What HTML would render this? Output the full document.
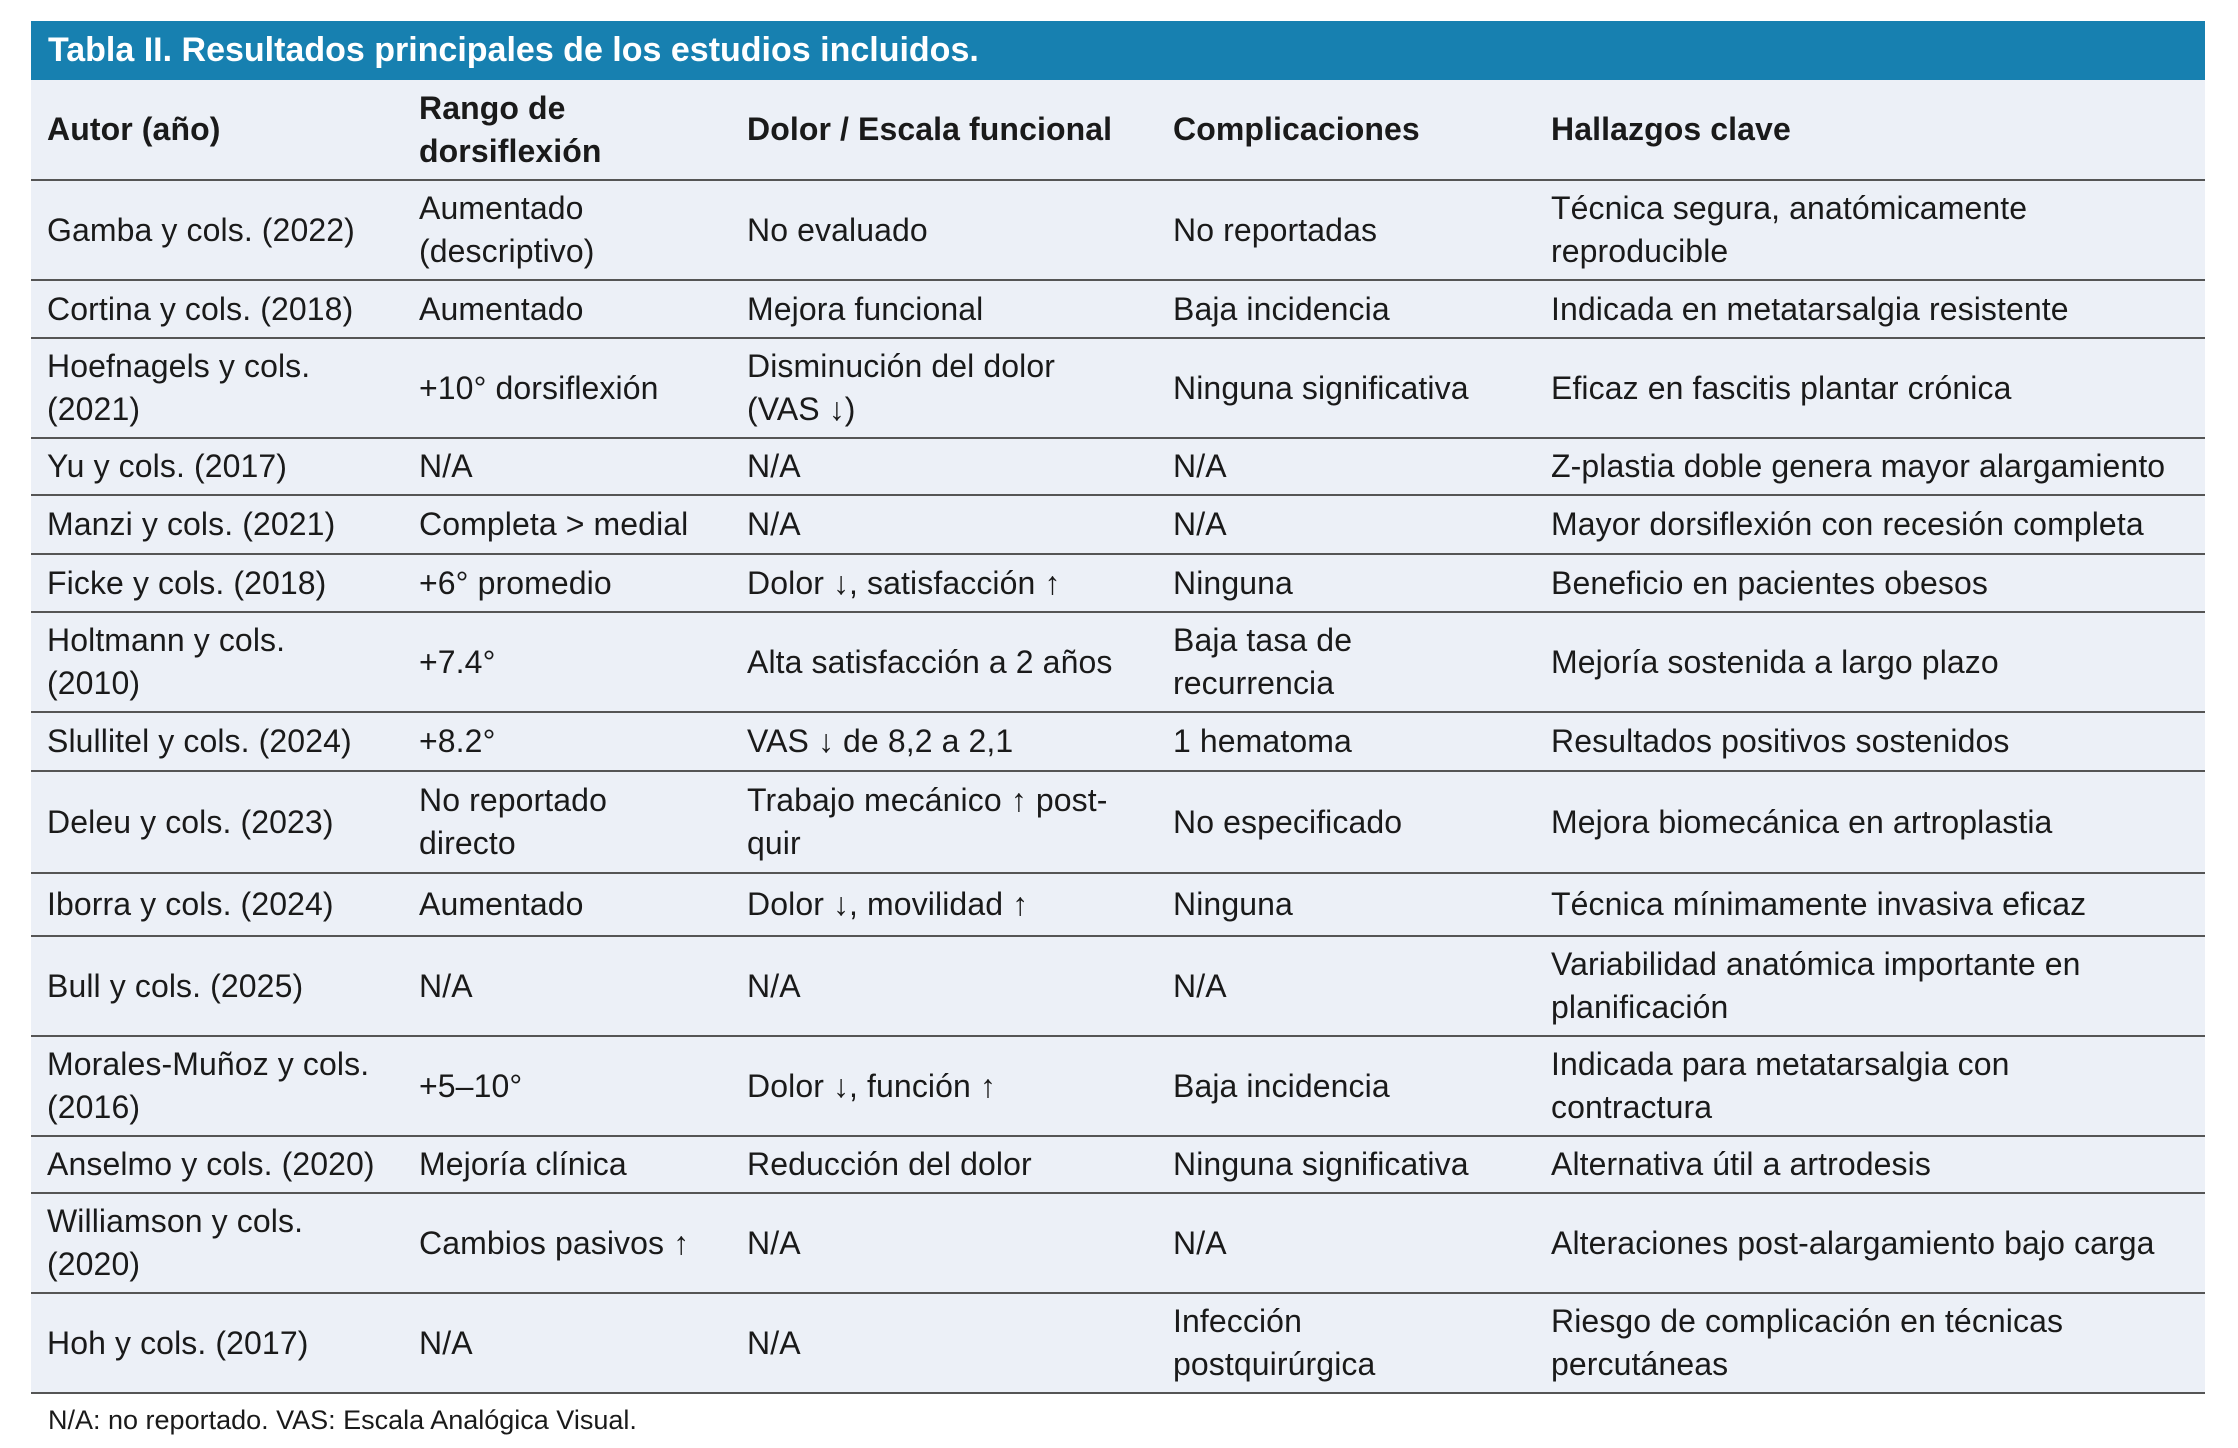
<!DOCTYPE html>
<html><head><meta charset="utf-8"><style>
body{margin:0;width:2238px;height:1448px;background:#fff;font-family:"Liberation Sans",sans-serif;color:#1a1a1a;position:relative;overflow:hidden}
.title{position:absolute;left:31px;top:21px;width:2174px;height:59px;background:#1780b0;color:#fff;font-weight:bold;font-size:34px;line-height:59px;box-sizing:border-box;padding-left:17px;letter-spacing:0px}
table{position:absolute;left:31px;top:80px;width:2174px;border-collapse:collapse;table-layout:fixed;background:#ecf0f7;font-size:32px;line-height:43px}
td{padding:0 0 0 16px;vertical-align:middle;border-bottom:2px solid #555;letter-spacing:0.1px;white-space:nowrap}
tr.h td{font-weight:bold}
.foot{position:absolute;left:48px;top:1405px;font-size:27px}
</style></head><body>
<div class="title">Tabla II. Resultados principales de los estudios incluidos.</div>
<table>
<colgroup><col style="width:372px"><col style="width:328px"><col style="width:426px"><col style="width:378px"><col style="width:670px"></colgroup>
<tr class="h" style="height:100px"><td>Autor (año)</td><td>Rango de<br>dorsiflexión</td><td>Dolor / Escala funcional</td><td>Complicaciones</td><td>Hallazgos clave</td></tr>
<tr style="height:100px"><td>Gamba y cols. (2022)</td><td>Aumentado<br>(descriptivo)</td><td>No evaluado</td><td>No reportadas</td><td>Técnica segura, anatómicamente<br>reproducible</td></tr>
<tr style="height:58px"><td>Cortina y cols. (2018)</td><td>Aumentado</td><td>Mejora funcional</td><td>Baja incidencia</td><td>Indicada en metatarsalgia resistente</td></tr>
<tr style="height:100px"><td>Hoefnagels y cols.<br>(2021)</td><td>+10° dorsiflexión</td><td>Disminución del dolor<br>(VAS ↓)</td><td>Ninguna significativa</td><td>Eficaz en fascitis plantar crónica</td></tr>
<tr style="height:57px"><td>Yu y cols. (2017)</td><td>N/A</td><td>N/A</td><td>N/A</td><td>Z-plastia doble genera mayor alargamiento</td></tr>
<tr style="height:59px"><td>Manzi y cols. (2021)</td><td>Completa &gt; medial</td><td>N/A</td><td>N/A</td><td>Mayor dorsiflexión con recesión completa</td></tr>
<tr style="height:58px"><td>Ficke y cols. (2018)</td><td>+6° promedio</td><td>Dolor ↓, satisfacción ↑</td><td>Ninguna</td><td>Beneficio en pacientes obesos</td></tr>
<tr style="height:100px"><td>Holtmann y cols.<br>(2010)</td><td>+7.4°</td><td>Alta satisfacción a 2 años</td><td>Baja tasa de<br>recurrencia</td><td>Mejoría sostenida a largo plazo</td></tr>
<tr style="height:59px"><td>Slullitel y cols. (2024)</td><td>+8.2°</td><td>VAS ↓ de 8,2 a 2,1</td><td>1 hematoma</td><td>Resultados positivos sostenidos</td></tr>
<tr style="height:102px"><td>Deleu y cols. (2023)</td><td>No reportado<br>directo</td><td>Trabajo mecánico ↑ post-<br>quir</td><td>No especificado</td><td>Mejora biomecánica en artroplastia</td></tr>
<tr style="height:63px"><td>Iborra y cols. (2024)</td><td>Aumentado</td><td>Dolor ↓, movilidad ↑</td><td>Ninguna</td><td>Técnica mínimamente invasiva eficaz</td></tr>
<tr style="height:100px"><td>Bull y cols. (2025)</td><td>N/A</td><td>N/A</td><td>N/A</td><td>Variabilidad anatómica importante en<br>planificación</td></tr>
<tr style="height:100px"><td>Morales-Muñoz y cols.<br>(2016)</td><td>+5–10°</td><td>Dolor ↓, función ↑</td><td>Baja incidencia</td><td>Indicada para metatarsalgia con<br>contractura</td></tr>
<tr style="height:57px"><td>Anselmo y cols. (2020)</td><td>Mejoría clínica</td><td>Reducción del dolor</td><td>Ninguna significativa</td><td>Alternativa útil a artrodesis</td></tr>
<tr style="height:100px"><td>Williamson y cols.<br>(2020)</td><td>Cambios pasivos ↑</td><td>N/A</td><td>N/A</td><td>Alteraciones post-alargamiento bajo carga</td></tr>
<tr style="height:100px"><td>Hoh y cols. (2017)</td><td>N/A</td><td>N/A</td><td>Infección<br>postquirúrgica</td><td>Riesgo de complicación en técnicas<br>percutáneas</td></tr>
</table>
<div class="foot">N/A: no reportado. VAS: Escala Analógica Visual.</div>
</body></html>
